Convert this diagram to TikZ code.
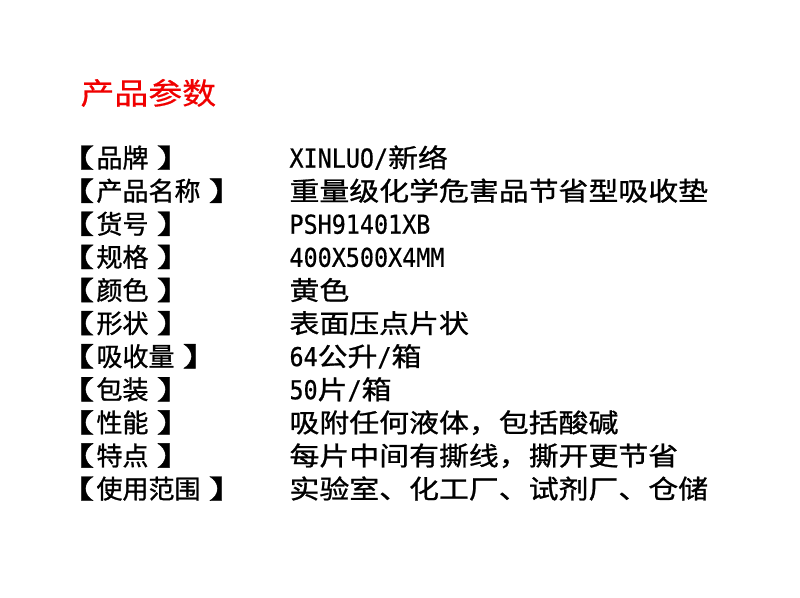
\documentclass[tikz,border=0pt]{standalone}
\usepackage{fontspec}
\usepackage{tikz}
\usepackage{color}
\newfontfamily\keyfont{Noto Sans CJK SC}[FakeBold=1]
\newfontfamily\bracketfont{Noto Sans CJK SC}[FakeStretch=1.5,FakeBold=1.5]
\newfontfamily\valfont{Noto Sans CJK SC}[FakeStretch=1.15,FakeBold=1]
\newfontfamily\monofont{DejaVu Sans Mono}[FakeStretch=0.9,FakeBold=0.6]
\newfontfamily\titlefont{Noto Sans CJK SC}[FakeStretch=1.13,FakeBold=0.4]
\newcommand{\lat}[1]{{\monofont #1}}
\newcommand{\brk}[1]{{\bracketfont 【}\hspace{2pt}#1\hspace{8pt}{\bracketfont 】}}
\definecolor{titlered}{RGB}{240,0,0}

\begin{document}
\begin{tikzpicture}[x=1pt,y=-1pt,
   every node/.style={inner sep=0pt,outer sep=0pt,anchor=base west},
   key/.style={font=\keyfont\fontsize{26}{26}\selectfont},
   val/.style={font=\valfont\fontsize{26}{26}\selectfont}]
\useasboundingbox[fill=white] (0,0) rectangle (800,597);
\node[font=\titlefont\fontsize{30}{30}\selectfont,text=titlered] (title) at (80.5,104.3) {产品参数};
\foreach \k/\v [count=\i] in {
    {品牌}/{\lat{XINLUO/}新络},
    {产品名称}/{重量级化学危害品节省型吸收垫},
    {货号}/{\lat{PSH91401XB}},
    {规格}/{\lat{400X500X4MM}},
    {颜色}/{黄色},
    {形状}/{表面压点片状},
    {吸收量}/{\lat{64}公升\lat{/}箱},
    {包装}/{\lat{50}片\lat{/}箱},
    {性能}/{吸附任何液体，包括酸碱},
    {特点}/{每片中间有撕线，撕开更节省},
    {使用范围}/{实验室、化工厂、试剂厂、仓储}}
{
    \node[key] (key\i) at (55.5,{167.5+33.1*(\i-1)}) {\brk{\k}};
    \node[val] (val\i) at (289.5,{167.5+33.1*(\i-1)}) {\v};
}
\end{tikzpicture}
\end{document}
